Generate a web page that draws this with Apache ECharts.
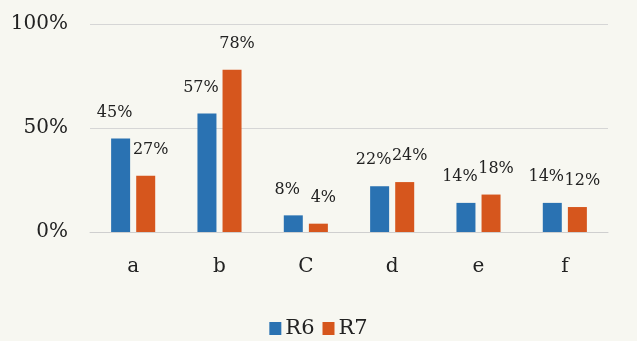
<!DOCTYPE html>
<html>
<head>
<meta charset="utf-8">
<script src="https://cdn.jsdelivr.net/npm/echarts@6/dist/echarts.min.js"></script>
<style>
html,body{margin:0;padding:0;background:#f7f7f1;}
#chart{width:637px;height:341px;}
</style>
</head>
<body>
<div id="chart"></div>
<script>
const categories = ['a', 'b', 'C', 'd', 'e', 'f'];
const r6Values = [45, 57, 8, 22, 14, 14];
const r7Values = [27, 78, 4, 24, 18, 12];
const seriesNames = ['R6', 'R7'];

const font = '"DejaVu Serif", "Liberation Serif", serif';
const chart = echarts.init(document.getElementById('chart'));
chart.setOption({
  backgroundColor: '#f7f7f1',
  animation: false,
  grid: { left: 90, right: 29, top: 24, bottom: 109 },
  legend: {
    data: seriesNames,
    top: 313,
    left: 'center',
    icon: 'rect',
    itemWidth: 12,
    itemHeight: 13,
    itemGap: 8,
    textStyle: { fontFamily: font, fontSize: 21, color: '#222', padding: [0, 0, 0, -1] }
  },
  xAxis: {
    type: 'category',
    data: categories,
    axisLine: { lineStyle: { color: '#cfcfcf', width: 1 } },
    axisTick: { show: false },
    axisLabel: { fontFamily: font, fontSize: 20, color: '#222', margin: 25 }
  },
  yAxis: {
    type: 'value',
    min: 0, max: 100, interval: 50,
    axisLabel: { formatter: '{value}%', fontFamily: font, fontSize: 20, color: '#222', margin: 22 },
    splitLine: { lineStyle: { color: '#d6d6d6', width: 1 } },
    axisLine: { show: false },
    axisTick: { show: false }
  },
  series: [
    {
      name: seriesNames[0], type: 'bar', data: r6Values,
      barWidth: 19, barGap: '32%',
      itemStyle: { color: '#2a72b2' },
      label: { show: true, position: 'top', distance: 18, offset: [-6, 0], formatter: '{c}%', fontFamily: font, fontSize: 16, color: '#222' }
    },
    {
      name: seriesNames[1], type: 'bar', data: r7Values,
      barWidth: 19,
      itemStyle: { color: '#d6561d' },
      label: { show: true, position: 'top', distance: 18, offset: [5, 0], formatter: '{c}%', fontFamily: font, fontSize: 16, color: '#222' }
    }
  ]
});
</script>
</body>
</html>
